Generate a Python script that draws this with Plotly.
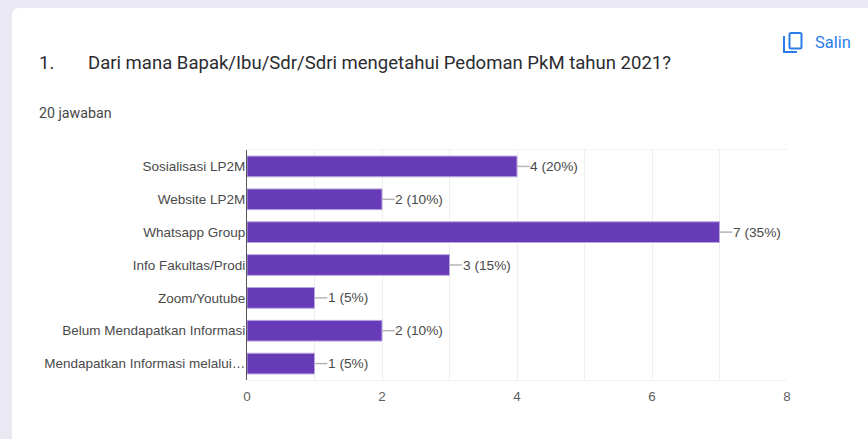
import plotly.graph_objects as go

categories = ["Sosialisasi LP2M", "Website LP2M", "Whatsapp Group", "Info Fakultas/Prodi",
              "Zoom/Youtube", "Belum Mendapatkan Informasi", "Mendapatkan Informasi melalui…"]
counts = [4, 2, 7, 3, 1, 2, 1]
percent = [20, 10, 35, 15, 5, 10, 5]
title_text = "Dari mana Bapak/Ibu/Sdr/Sdri mengetahui Pedoman PkM tahun 2021?"
question_no = "1."
subtitle = "20 jawaban"
copy_label = "Salin"

W, H = 868, 439
L, R, T, B = 247, 787, 150, 380
def px(x): return (x - L) / (R - L)
def py(y): return 1 - (y - T) / (B - T)

BLUE = "#2a7de9"
TXT = "#4a4a4a"

fig = go.Figure()
fig.add_bar(
    y=categories, x=counts, orientation="h",
    marker=dict(color="#673ab7", line=dict(color="#b9a6e0", width=1)),
    width=0.63,
    error_x=dict(type="data", symmetric=False, array=[0.19] * len(counts),
                 arrayminus=[0] * len(counts), color="#b5b5b5", thickness=1.5, width=0),
    hoverinfo="skip",
)

annotations = [
    dict(x=c, y=cat, xref="x", yref="y", xshift=11, xanchor="left", showarrow=False,
         text=f"{c} ({p}%)", font=dict(family="Liberation Sans", size=13.7, color=TXT))
    for c, p, cat in zip(counts, percent, categories)
]
def page_text(x, y, text, size, color, family="Roboto", anchor="left"):
    return dict(x=px(x), y=py(y), xref="paper", yref="paper", xanchor=anchor, yanchor="middle",
                showarrow=False, text=text, font=dict(family=family, size=size, color=color))
annotations += [
    page_text(37, 63, question_no, 18.5, "#2b2c30"),
    page_text(86, 63, title_text, 18.55, "#2b2c30"),
    page_text(37, 113, subtitle, 14.2, "#45474b"),
    page_text(813, 42, copy_label, 16.5, BLUE),
]

def rel(x, y): return f"{px(x)} {py(y)}"
shapes = [
    # card background strip
    dict(type="path", xref="paper", yref="paper", layer="below", line=dict(width=0), fillcolor="#e9e8f3",
         path=f"M {rel(0,0)} L {rel(868,0)} L {rel(868,8)} L {rel(20,8)} Q {rel(12,8)} {rel(12,16)} L {rel(12,439)} L {rel(0,439)} Z"),
    # copy icon
    dict(type="path", xref="paper", yref="paper", line=dict(color=BLUE, width=2), fillcolor="rgba(0,0,0,0)",
         path=f"M {rel(791,33)} L {rel(800,33)} Q {rel(801.5,33)} {rel(801.5,34.5)} L {rel(801.5,47)} Q {rel(801.5,48.5)} {rel(800,48.5)} L {rel(791,48.5)} Q {rel(789.5,48.5)} {rel(789.5,47)} L {rel(789.5,34.5)} Q {rel(789.5,33)} {rel(791,33)} Z"),
    dict(type="path", xref="paper", yref="paper", line=dict(color=BLUE, width=2), fillcolor="rgba(0,0,0,0)",
         path=f"M {rel(784,36)} L {rel(784,52)} L {rel(797,52)}"),
]

fig.update_layout(
    width=W, height=H, autosize=False,
    margin=dict(l=L, r=W - R, t=T, b=H - B, pad=0),
    paper_bgcolor="white", plot_bgcolor="white", showlegend=False,
    annotations=annotations, shapes=shapes,
    font=dict(family="Liberation Sans", size=13.5, color=TXT),
    xaxis=dict(range=[0, 8], dtick=2, tick0=0, showgrid=True, gridcolor="#eeeeee", gridwidth=1,
               minor=dict(dtick=1, showgrid=True, gridcolor="#eeeeee", gridwidth=1, ticks=""),
               zeroline=False, showline=True, mirror=True, linecolor="#f2f2f2", linewidth=1,
               ticks="", tickfont=dict(size=13.5, color="#5f5f5f"), ticklabelstandoff=4),
    yaxis=dict(autorange="reversed", showgrid=False, zeroline=False, showline=True,
               linecolor="#555555", linewidth=1, ticks="", ticklabelstandoff=-2,
               tickfont=dict(size=13.5, color=TXT)),
)
fig.write_html("out.html", config={"displayModeBar": False},
               post_script="document.body.style.margin='0';document.documentElement.style.overflow='hidden';")
